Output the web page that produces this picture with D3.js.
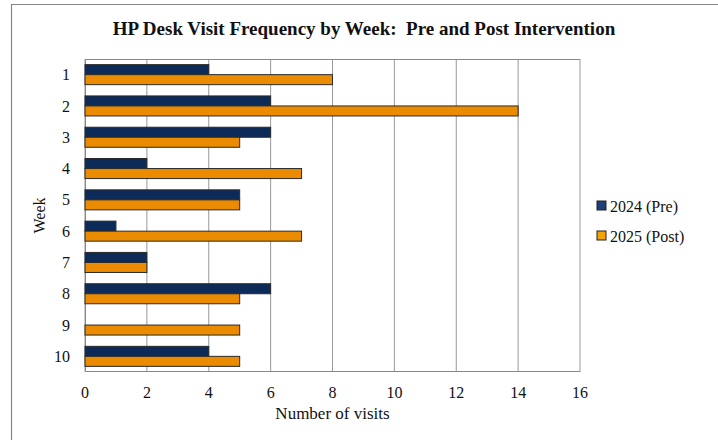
<!DOCTYPE html>
<html>
<head>
<meta charset="utf-8">
<script src="https://cdn.jsdelivr.net/npm/d3@7"></script>
<style>
  body { margin: 0; background: #fff; }
  text { font-family: "Liberation Serif", "DejaVu Serif", serif; fill: #111; }
</style>
</head>
<body>
<svg class="chart"></svg>
<script>
var weeks = ['1', '2', '3', '4', '5', '6', '7', '8', '9', '10']
var pre2024 = [4, 6, 6, 2, 5, 1, 2, 6, 0, 4]
var post2025 = [8, 14, 5, 7, 5, 7, 2, 5, 5, 5]
var seriesNames = ['2024 (Pre)', '2025 (Post)']
var xTicks = [0, 2, 4, 6, 8, 10, 12, 14, 16]

var W = 718, H = 440
var margin = { top: 59, right: 138, bottom: 68, left: 85 }
var width = W - margin.left - margin.right,
    height = H - margin.top - margin.bottom

var colors = ['#0c2b58', '#ea8b00']

var svg = d3.select('.chart')
    .attr('width', W)
    .attr('height', H)

// outer frame (top and left edges only, like the scanned chart)
svg.append('path')
    .attr('d', 'M11.5,' + H + 'V4.5H' + W)
    .attr('fill', 'none')
    .attr('stroke', '#888')
    .attr('stroke-width', 1.2)

svg.append('text')
    .attr('x', 364)
    .attr('y', 35)
    .attr('text-anchor', 'middle')
    .attr('font-size', 19)
    .attr('font-weight', 'bold')
    .style('white-space', 'pre')
    .text('HP Desk Visit Frequency by Week:  Pre and Post Intervention')

var chart = svg.append('g')
    .attr('transform', `translate(${margin.left}, ${margin.top})`)

var x = d3.scaleLinear()
    .domain([0, 16])
    .range([0, width])

var y = d3.scaleBand()
    .domain(weeks)
    .range([0, height])
    .paddingInner(0.36)
    .paddingOuter(0.18)

var sub = d3.scaleBand()
    .domain([0, 1])
    .range([0, y.bandwidth()])

// gridlines
chart.append('g')
    .selectAll('line')
    .data(xTicks)
  .enter().append('line')
    .attr('x1', function(d) { return x(d) })
    .attr('x2', function(d) { return x(d) })
    .attr('y1', 0)
    .attr('y2', height)
    .attr('stroke', '#999')
    .attr('stroke-width', 1)

// plot frame top, left, bottom
chart.append('path')
    .attr('d', `M${width},0.5H0.5V${height - 0.5}H${width}`)
    .attr('fill', 'none')
    .attr('stroke', '#888')
    .attr('stroke-width', 1)

var rows = weeks.map(function(w, i) { return { week: w, vals: [pre2024[i], post2025[i]] } })

var groups = chart.selectAll('.bar')
    .data(rows)
  .enter().append('g')
    .attr('class', 'bar')
    .attr('transform', function(d) { return `translate(0, ${y(d.week)})` })

groups.selectAll('rect')
    .data(function(d) { return d.vals.map(function(v, j) { return { v: v, j: j } }).filter(function(e) { return e.v > 0 }) })
  .enter().append('rect')
    .attr('x', x(0))
    .attr('y', function(d) { return sub(d.j) })
    .attr('width', function(d) { return x(d.v) - x(0) })
    .attr('height', sub.bandwidth())
    .attr('fill', function(d) { return colors[d.j] })
    .attr('stroke', '#2a2a2a')
    .attr('stroke-width', 1)

// y labels
chart.append('g')
    .selectAll('text')
    .data(weeks)
  .enter().append('text')
    .attr('x', -15)
    .attr('y', function(d) { return y(d) + y.bandwidth() / 2 })
    .attr('dy', '0.35em')
    .attr('text-anchor', 'end')
    .attr('font-size', 16)
    .text(function(d) { return d })

// x labels
chart.append('g')
    .selectAll('text')
    .data(xTicks)
  .enter().append('text')
    .attr('x', function(d) { return x(d) })
    .attr('y', height + 26)
    .attr('text-anchor', 'middle')
    .attr('font-size', 16)
    .text(function(d) { return d })

chart.append('text')
    .attr('x', width / 2)
    .attr('y', height + 47)
    .attr('text-anchor', 'middle')
    .attr('font-size', 17)
    .text('Number of visits')

chart.append('text')
    .attr('transform', `translate(-40, ${height / 2}) rotate(-90)`)
    .attr('text-anchor', 'middle')
    .attr('font-size', 16)
    .text('Week')

// legend
var legend = svg.append('g')
    .attr('transform', 'translate(597, 206)')

var items = legend.selectAll('g')
    .data(seriesNames)
  .enter().append('g')
    .attr('transform', function(d, i) { return `translate(0, ${i * 30})` })

items.append('rect')
    .attr('x', 0)
    .attr('y', -5)
    .attr('width', 9)
    .attr('height', 9)
    .attr('fill', function(d, i) { return i == 0 ? '#1d3f7a' : '#f2a400' })
    .attr('stroke', '#222')
    .attr('stroke-width', 1)

items.append('text')
    .attr('x', 13)
    .attr('dy', '0.35em')
    .attr('font-size', 16)
    .text(function(d) { return d })
</script>
</body>
</html>
